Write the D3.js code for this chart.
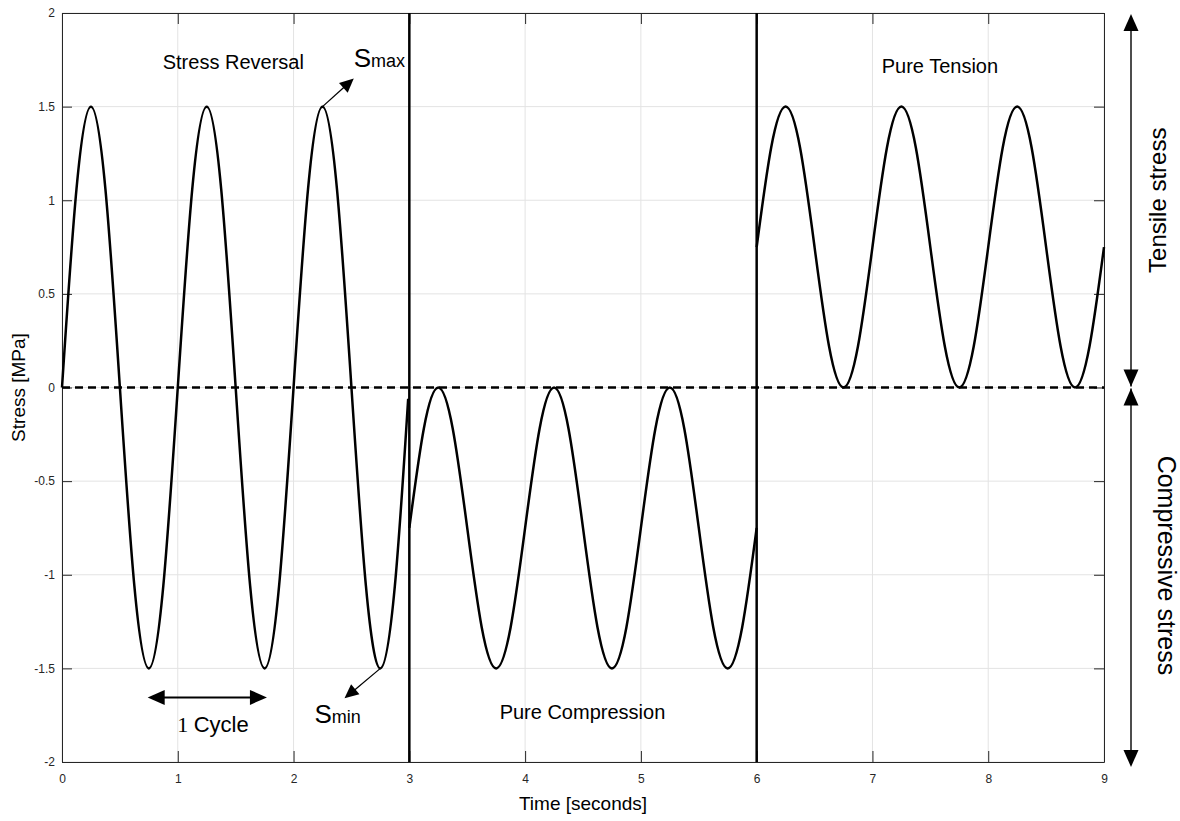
<!DOCTYPE html>
<html>
<head>
<meta charset="utf-8">
<script src="https://cdn.jsdelivr.net/npm/d3@7"></script>
<style>
  body { margin: 0; background: #fff; }
  svg { font-family: "Liberation Sans", Arial, sans-serif; }
</style>
</head>
<body>
<div id="chart"></div>
<script>
// x ticks and y ticks
var xTicks = [0, 1, 2, 3, 4, 5, 6, 7, 8, 9];
var yTicks = [-2, -1.5, -1, -0.5, 0, 0.5, 1, 1.5, 2];

// stress reversal, 0 - 3 s
var reversalTime = [0, 0.125, 0.25, 0.375, 0.5, 0.625, 0.75, 0.875, 1, 1.125, 1.25, 1.375, 1.5,
  1.625, 1.75, 1.875, 2, 2.125, 2.25, 2.375, 2.5, 2.625, 2.75, 2.875, 2.99];
var reversalStress = [0, 1.06, 1.5, 1.06, 0, -1.06, -1.5, -1.06, 0, 1.06, 1.5, 1.06, 0,
  -1.06, -1.5, -1.06, 0, 1.06, 1.5, 1.06, 0, -1.06, -1.5, -1.06, -0.06];

// pure compression, 3 - 6 s
var compressionTime = [3, 3.125, 3.25, 3.375, 3.5, 3.625, 3.75, 3.875, 4, 4.125, 4.25, 4.375, 4.5,
  4.625, 4.75, 4.875, 5, 5.125, 5.25, 5.375, 5.5, 5.625, 5.75, 5.875, 6];
var compressionStress = [-0.75, -0.22, 0, -0.22, -0.75, -1.28, -1.5, -1.28, -0.75, -0.22, 0, -0.22, -0.75,
  -1.28, -1.5, -1.28, -0.75, -0.22, 0, -0.22, -0.75, -1.28, -1.5, -1.28, -0.75];

// pure tension, 6 - 9 s
var tensionTime = [6, 6.125, 6.25, 6.375, 6.5, 6.625, 6.75, 6.875, 7, 7.125, 7.25, 7.375, 7.5,
  7.625, 7.75, 7.875, 8, 8.125, 8.25, 8.375, 8.5, 8.625, 8.75, 8.875, 9];
var tensionStress = [0.75, 1.28, 1.5, 1.28, 0.75, 0.22, 0, 0.22, 0.75, 1.28, 1.5, 1.28, 0.75,
  0.22, 0, 0.22, 0.75, 1.28, 1.5, 1.28, 0.75, 0.22, 0, 0.22, 0.75];

// region boundaries
var boundaries = [3, 6];

var margin = { top: 13, right: 76, bottom: 59, left: 62 },
    width = 1180,
    height = 821,
    innerW = width - margin.left - margin.right,
    innerH = height - margin.top - margin.bottom;

var x = d3.scaleLinear().domain([0, 9]).range([0, innerW]);
var y = d3.scaleLinear().domain([-2, 2]).range([innerH, 0]);

var svg = d3.select("#chart").append("svg")
    .attr("width", width)
    .attr("height", height);

var g = svg.append("g")
    .attr("transform", "translate(" + margin.left + "," + margin.top + ")");

// grid
g.append("g").attr("class", "grid")
    .selectAll("line.gx").data(xTicks).enter().append("line")
    .attr("x1", function(d) { return x(d); }).attr("x2", function(d) { return x(d); })
    .attr("y1", 0).attr("y2", innerH)
    .attr("stroke", "#e3e3e3").attr("stroke-width", 1);
g.select("g.grid")
    .selectAll("line.gy").data(yTicks).enter().append("line")
    .attr("x1", 0).attr("x2", innerW)
    .attr("y1", function(d) { return y(d); }).attr("y2", function(d) { return y(d); })
    .attr("stroke", "#e3e3e3").attr("stroke-width", 1);

// axes, ticks inward on all four sides
var fmt = function(d) { return String(d); };
var xAxis = g.append("g")
    .attr("transform", "translate(0," + innerH + ")")
    .call(d3.axisBottom(x).tickValues(xTicks).tickFormat(fmt).tickSizeInner(-11).tickSizeOuter(0).tickPadding(12));
var yAxis = g.append("g")
    .call(d3.axisLeft(y).tickValues(yTicks).tickFormat(fmt).tickSizeInner(-10).tickSizeOuter(0).tickPadding(7));
var xTop = g.append("g")
    .call(d3.axisTop(x).tickValues(xTicks).tickFormat("").tickSizeInner(-11).tickSizeOuter(0));
var yRight = g.append("g")
    .attr("transform", "translate(" + innerW + ",0)")
    .call(d3.axisRight(y).tickValues(yTicks).tickFormat("").tickSizeInner(-10).tickSizeOuter(0));

[xAxis, yAxis, xTop, yRight].forEach(function(a) {
  a.select(".domain").attr("stroke", "#262626").attr("stroke-width", 1);
  a.selectAll(".tick line").attr("stroke", "#262626");
  a.selectAll(".tick text").attr("fill", "#262626").style("font-size", "12px")
    .style("font-family", "'Liberation Sans', Arial, sans-serif");
});

// zero line
g.append("line")
    .attr("x1", x(0)).attr("x2", x(9))
    .attr("y1", y(0)).attr("y2", y(0))
    .attr("stroke", "#000").attr("stroke-width", 2.5)
    .attr("stroke-dasharray", "8,5");

// waveforms
var line = d3.line()
    .x(function(d) { return x(d[0]); })
    .y(function(d) { return y(d[1]); })
    .curve(d3.curveNatural);

var segments = [
  d3.zip(reversalTime, reversalStress),
  d3.zip(compressionTime, compressionStress),
  d3.zip(tensionTime, tensionStress)
];
g.selectAll("path.wave").data(segments).enter().append("path")
    .attr("class", "wave")
    .attr("d", line)
    .attr("fill", "none")
    .attr("stroke", "#000")
    .attr("stroke-width", 2.5)
    .attr("stroke-linejoin", "round");

// boundaries
g.selectAll("line.bound").data(boundaries).enter().append("line")
    .attr("class", "bound")
    .attr("x1", function(d) { return x(d); }).attr("x2", function(d) { return x(d); })
    .attr("y1", 0).attr("y2", innerH)
    .attr("stroke", "#000").attr("stroke-width", 2.5);

// arrows
function arrowHead(sel, x1, y1, x2, y2, len, wid, color) {
  var a = Math.atan2(y2 - y1, x2 - x1),
      bx = x2 - len * Math.cos(a), by = y2 - len * Math.sin(a),
      px = -Math.sin(a) * wid / 2, py = Math.cos(a) * wid / 2;
  sel.append("path")
    .attr("d", "M" + x2 + "," + y2 + "L" + (bx + px) + "," + (by + py) + "L" + (bx - px) + "," + (by - py) + "Z")
    .attr("fill", color);
}
function arrow(sel, x1, y1, x2, y2, len, wid, color, sw, both) {
  var a = Math.atan2(y2 - y1, x2 - x1);
  sel.append("line")
    .attr("x1", both ? x1 + (len - 2) * Math.cos(a) : x1)
    .attr("y1", both ? y1 + (len - 2) * Math.sin(a) : y1)
    .attr("x2", x2 - (len - 2) * Math.cos(a)).attr("y2", y2 - (len - 2) * Math.sin(a))
    .attr("stroke", color).attr("stroke-width", sw);
  arrowHead(sel, x1, y1, x2, y2, len, wid, color);
  if (both) arrowHead(sel, x2, y2, x1, y1, len, wid, color);
}

arrow(g, x(2.25), y(1.5), x(2.52), y(1.65), 14, 13, "#000", 1.3, false);
arrow(g, x(2.75), y(-1.5), x(2.44), y(-1.66), 14, 13, "#000", 1.3, false);
arrow(g, x(0.74), y(-1.655), x(1.77), y(-1.655), 17, 15, "#000", 2, true);

// right side arrows
var ax = innerW + 27;
var side = g.append("g").attr("class", "side");
arrow(side, ax, y(0) - 1, ax, y(2) + 1, 17, 15, "#000", 2, false);
arrowHead(side, ax, y(2), ax, y(0) - 1, 17, 15, "#000");
arrow(side, ax, y(0) + 1, ax, innerH + 5, 17, 15, "#000", 2, false);
arrowHead(side, ax, innerH + 5, ax, y(0) + 1, 17, 15, "#000");
side.selectAll("line").attr("stroke", "#4d4d4d");

// annotations
var txt = function(s, xx, yy, size) {
  return g.append("text").attr("x", xx).attr("y", yy)
    .style("font-size", size + "px").attr("fill", "#000").text(s);
};
txt("Stress Reversal", x(0.87), y(1.7), 20);
txt("Pure Tension", x(7.08), y(1.68), 20);
txt("Pure Compression", x(3.78), y(-1.77), 20);

var smax = g.append("text").attr("x", x(2.52)).attr("y", y(1.71)).attr("fill", "#000");
smax.append("tspan").style("font-size", "26px").text("S");
smax.append("tspan").style("font-size", "18px").text("max");
var smin = g.append("text").attr("x", x(2.18)).attr("y", y(-1.79)).attr("fill", "#000");
smin.append("tspan").style("font-size", "26px").text("S");
smin.append("tspan").style("font-size", "18px").text("min");

var cyc = g.append("text").attr("x", x(0.995)).attr("y", y(-1.84)).attr("fill", "#000");
cyc.append("tspan").style("font-family", "'Liberation Serif', 'Times New Roman', serif").style("font-size", "22px").text("1 ");
cyc.append("tspan").style("font-size", "22px").text("Cycle");

// side labels
svg.append("text")
    .attr("transform", "translate(1166," + (margin.top + y(1)) + ") rotate(-90)")
    .attr("text-anchor", "middle")
    .style("font-size", "24px").attr("fill", "#000")
    .text("Tensile stress");
svg.append("text")
    .attr("transform", "translate(1158," + (margin.top + y(-0.95)) + ") rotate(90)")
    .attr("text-anchor", "middle")
    .style("font-size", "25px").attr("fill", "#000")
    .text("Compressive stress");

// axis titles
svg.append("text")
    .attr("x", margin.left + innerW / 2).attr("y", 810)
    .attr("text-anchor", "middle")
    .style("font-size", "19px").attr("fill", "#000")
    .text("Time [seconds]");
svg.append("text")
    .attr("transform", "translate(25," + (margin.top + innerH / 2) + ") rotate(-90)")
    .attr("text-anchor", "middle")
    .style("font-size", "19px").attr("fill", "#000")
    .text("Stress [MPa]");
</script>
</body>
</html>
